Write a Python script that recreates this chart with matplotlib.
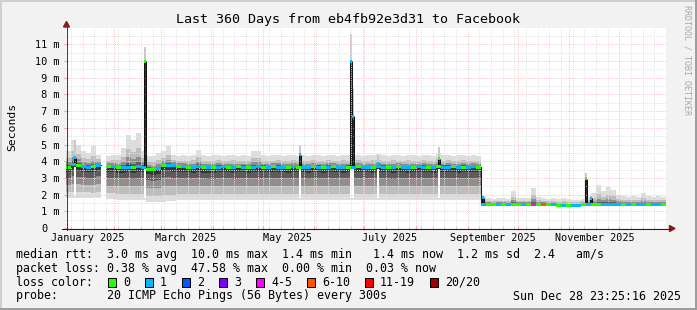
import datetime as dt
import numpy as np
import matplotlib
matplotlib.use('Agg')
import matplotlib.pyplot as plt
from matplotlib.patches import Rectangle, Polygon
from matplotlib.lines import Line2D
from matplotlib.transforms import ScaledTranslation

plt.rcParams['font.family'] = ['DejaVu Sans Mono']

W, H = 697, 310

start = dt.datetime(2025, 1, 2, 23, 25, 16)
end = dt.datetime(2025, 12, 28, 23, 25, 16)
step_days = 3  # one value per 3 days

nan = float('nan')

# median rtt (ms), one value per 3-day step
median_ms = [
    3.65, 3.80, 3.72, 3.66, 3.64, 3.66, 3.75, nan, 3.68, 3.66,
    3.62, 3.63, 3.64, 3.61, 3.66, 3.65, 3.52, 3.50, 3.54, 3.74,
    3.76, 3.72, 3.70, 3.66, 3.64, 3.62, 3.66, 3.63, 3.60, 3.62,
    3.65, 3.66, 3.64, 3.62, 3.66, 3.65, 3.63, 3.64, 3.66, 3.65,
    3.64, 3.66, 3.64, 3.65, 3.63, 3.66, 3.65, 3.64, 3.62, 3.66,
    3.65, 3.63, 3.64, 3.66, 3.64, 3.63, 3.65, 3.64, 3.66, 3.65,
    3.64, 3.63, 3.66, 3.65, 3.64, 3.62, 3.66, 3.65, 3.63, 3.64,
    3.66, 3.65, 3.64, 3.63, 3.66, 3.65, 3.64, 3.66, 3.63, 3.65,
    3.64, 3.66, 3.65, 1.42, 1.42, 1.43, 1.42, 1.42, 1.41, 1.42,
    1.42, 1.43, 1.42, 1.42, 1.41, 1.42, 1.42, 1.40, 1.36, 1.35,
    1.34, 1.35, 1.36, 1.40, 1.42, 1.40, 1.41, 1.42, 1.42, 1.43,
    1.42, 1.41, 1.42, 1.42, 1.41, 1.42, 1.42, 1.41, 1.42, 1.42,
]

# lowest ping of the smoke (ms)
smoke_lo = [
    1.80, 1.80, 1.82, 1.80, 1.80, 1.78, 1.80, nan, 1.72, 1.72,
    1.70, 1.70, 1.68, 1.68, 1.66, 1.65, 1.56, 1.55, 1.56, 1.58,
    1.60, 1.62, 1.66, 1.68, 1.68, 1.70, 1.68, 1.68, 1.70, 1.68,
    1.68, 1.70, 1.68, 1.68, 1.66, 1.68, 1.70, 1.68, 1.68, 1.70,
    1.68, 1.68, 1.70, 1.68, 1.68, 1.66, 1.68, 1.70, 1.68, 1.68,
    1.70, 1.68, 1.68, 1.66, 1.68, 1.68, 1.70, 1.68, 1.68, 1.70,
    1.68, 1.68, 1.66, 1.68, 1.70, 1.68, 1.68, 1.70, 1.68, 1.68,
    1.66, 1.68, 1.70, 1.68, 1.68, 1.70, 1.68, 1.68, 1.70, 1.68,
    1.68, 1.70, 1.68, 1.32, 1.32, 1.33, 1.32, 1.32, 1.31, 1.32,
    1.32, 1.33, 1.32, 1.32, 1.31, 1.32, 1.32, 1.30, 1.28, 1.27,
    1.26, 1.27, 1.28, 1.30, 1.32, 1.30, 1.31, 1.32, 1.32, 1.33,
    1.32, 1.31, 1.32, 1.32, 1.31, 1.32, 1.32, 1.31, 1.32, 1.32,
]

# highest ping of the smoke (ms)
smoke_hi = [
    4.6, 5.3, 5.0, 4.6, 4.5, 4.9, 4.4, nan, 4.3, 4.4,
    4.4, 4.8, 5.6, 5.3, 5.7, 4.6, 4.3, 4.3, 4.5, 4.6,
    4.9, 4.4, 4.3, 4.35, 4.3, 4.4, 4.7, 4.35, 4.3, 4.35,
    4.4, 4.3, 4.35, 4.4, 4.3, 4.35, 4.3, 4.6, 4.6, 4.35,
    4.3, 4.35, 4.4, 4.3, 4.35, 4.4, 4.3, 4.35, 4.3, 4.4,
    4.35, 4.3, 4.4, 4.35, 4.3, 4.4, 4.35, 4.3, 4.4, 4.3,
    4.35, 4.4, 4.45, 4.35, 4.3, 4.4, 4.35, 4.3, 4.4, 4.35,
    4.3, 4.4, 4.35, 4.3, 4.5, 4.35, 4.4, 4.3, 4.35, 4.4,
    4.3, 4.35, 4.3, 1.9, 1.8, 1.75, 1.78, 1.8, 1.75, 2.2,
    1.8, 1.78, 1.8, 2.4, 1.85, 1.8, 1.75, 1.8, 1.75, 1.8,
    1.75, 1.7, 1.7, 1.75, 1.85, 2.1, 2.55, 2.2, 2.45, 2.3,
    2.0, 1.9, 1.85, 1.9, 1.85, 2.1, 1.9, 1.85, 1.9, 1.85,
]

# packet loss class of the median, index into loss_colors
loss_code = (
    "0101101001" "0110110010" "1101011010" "1101010110"
    "1011010110" "1010110101" "1011010110" "1101011010"
    "1101001010" "0104050101" "0110100111" "1010110110"
)

# short outliers (day from start, median, top of smoke, loss class)
spike_day = [5.4, 47.4, 140.4, 171.0, 172.4, 186.9, 223.5, 250.2, 311.7, 315.0]
spike_med = [4.2, 10.0, 4.4, 10.0, 6.7, 3.84, 4.14, 1.8, 2.94, 1.78]
spike_top = [5.3, 10.85, 5.0, 11.6, 8.3, 4.4, 4.86, 1.9, 3.28, 1.9]
spike_loss = [1, 0, 1, 1, 1, 1, 0, 1, 0, 1]

loss_labels = ['0', '1', '2', '3', '4-5', '6-10', '11-19', '20/20']
loss_colors = ['#26ff00', '#00b8ff', '#0059ff', '#7e00ff',
               '#ff00ff', '#ff5500', '#ff0000', '#a10000']

# smoke shades: (part below median, part above median, colour)
smoke_levels = [(1.0, 1.0, '#dddddd'), (0.82, 0.55, '#bdbdbd'),
                (0.58, 0.30, '#8e8e8e'), (0.34, 0.14, '#5c5c5c'),
                (0.16, 0.06, '#343434')]


def days(t):
    return (t - start).total_seconds() / 86400.0


def px(x, y):
    return x / W, 1 - y / H


fig = plt.figure(figsize=(W / 100, H / 100), dpi=100, facecolor='#f2f2f2')
ax = fig.add_axes([66 / W, 1 - 228 / H, 600 / W, 200 / H])
ax.set_facecolor('white')
ax.set_xlim(0, days(end))
ax.set_ylim(0, 11.98)
for s in ax.spines.values():
    s.set_visible(False)

med = np.array(median_ms)
lo = np.array(smoke_lo)
hi = np.array(smoke_hi)
edges = np.arange(len(med) + 1) * step_days
xs = np.repeat(edges, 2)[1:-1]


def stairs(v):
    return np.repeat(v, 2)


# smoke
for flo, fhi, col in smoke_levels:
    ax.fill_between(xs, stairs(med - flo * (med - lo)), stairs(med + fhi * (hi - med)),
                    color=col, lw=0, zorder=1)

# outliers
for d, m, t, k in zip(spike_day, spike_med, spike_top, spike_loss):
    i = int(d // step_days)
    d0, d1 = d - 0.6, d + 0.6
    base = med[i]
    if base - lo[i] > 0.5:
        ax.fill_between([d0, d1], lo[i] + 0.12, base - 0.12, color='white', lw=0, zorder=1.2)
    ax.fill_between([d0, d1], m, t, color='#c8c8c8', lw=0, zorder=1.2)
    ax.fill_between([d0, d1], base, m, color='#2a2a2a', lw=0, zorder=1.2)
    ax.vlines([d0, d1], base, m, color='#151515', lw=0.75, zorder=3)
    ax.fill_between([d0, d1], m - 0.09, m + 0.09, color=loss_colors[k], lw=0, zorder=3.5)

# median line + loss colour
ax.plot(xs, stairs(med), color='#202020', lw=0.75, zorder=3)
codes = np.array([int(c) for c in loss_code])
for k, col in enumerate(loss_colors):
    mk = np.where(codes == k, med, np.nan)
    if np.all(np.isnan(mk)):
        continue
    ax.fill_between(xs, stairs(mk - 0.09), stairs(mk + 0.09), color=col, lw=0, zorder=3.5)

# grid
month_starts = [dt.datetime(2025, m, 1) for m in range(2, 13)]
major_x = [days(t) for t in month_starts]
mondays = []
t = dt.datetime(2025, 1, 6)
while t < end:
    if t.day != 1:
        mondays.append(days(t))
    t += dt.timedelta(days=7)
ax.set_xticks(major_x)
ax.set_xticks(mondays, minor=True)
ax.set_yticks(range(12))
ax.set_yticks(np.arange(0.5, 12, 1.0), minor=True)
ax.set_axisbelow(False)
ax.grid(which='major', color='#f9c4c4', linestyle=(0, (1, 1.2)), linewidth=0.72)
ax.grid(which='minor', color='#e2e2e2', linestyle=(0, (1, 1.2)), linewidth=0.72)
ax.tick_params(axis='x', which='both', labelbottom=False, direction='inout')
ax.tick_params(axis='x', which='major', length=3, color='#f0a0a0')
ax.tick_params(axis='x', which='minor', length=3, color='#c8c8c8')
ax.tick_params(axis='y', which='major', length=3, direction='inout', color='#f0a0a0',
               pad=3.2, labelsize=7.4)
ax.tick_params(axis='y', which='minor', length=0)
ax.set_yticklabels(['0'] + [f'{v:2d} m' for v in range(1, 12)])
ylab0 = ax.get_yticklabels()[0]
ylab0.set_transform(ylab0.get_transform() + ScaledTranslation(-8.9 / 72, 0, fig.dpi_scale_trans))

# month labels
for m in (1, 3, 5, 7, 9, 11):
    t = dt.datetime(2025, m, 16)
    ax.annotate(t.strftime('%B %Y'), (days(t), 0), xycoords=('data', 'axes fraction'),
                xytext=(0, -7.0), textcoords='offset points',
                ha='center', va='center', fontsize=7.3)

# axes with arrows
fig.add_artist(Line2D([px(66.5, 0)[0]] * 2, [px(0, 230)[1], px(0, 26)[1]],
                      color='#404040', lw=0.75, transform=fig.transFigure))
fig.add_artist(Line2D([px(62, 0)[0], px(670, 0)[0]], [px(0, 228.5)[1]] * 2,
                      color='#202020', lw=0.75, transform=fig.transFigure))
fig.add_artist(Polygon([px(66.5, 21.5), px(63.5, 27), px(69.5, 27)], closed=True,
                       color='#8b1a1a', transform=fig.transFigure))
fig.add_artist(Polygon([px(675, 228.5), px(669.5, 225.5), px(669.5, 231.5)], closed=True,
                       color='#8b1a1a', transform=fig.transFigure))

# title and labels
fig.text(*px(347.5, 19), 'Last 360 Days from eb4fb92e3d31 to Facebook',
         ha='center', va='center', fontsize=9.6)
fig.text(*px(12, 127), 'Seconds', rotation=90, ha='center', va='center', fontsize=8.2)
fig.text(*px(687, 5), 'RRDTOOL / TOBI OETIKER', rotation=270, ha='center', va='top',
         fontsize=6, color='#a8a8a8')

# legend
fs = 8.4
fig.text(*px(15.5, 254.3),
         'median rtt:  3.0 ms avg  10.0 ms max  1.4 ms min   1.4 ms now  1.2 ms sd  2.4   am/s',
         ha='left', va='center', fontsize=fs)
fig.text(*px(15.5, 268.3),
         'packet loss: 0.38 % avg  47.58 % max  0.00 % min  0.03 % now',
         ha='left', va='center', fontsize=fs)
fig.text(*px(15.5, 282.3), 'loss color:', ha='left', va='center', fontsize=fs)
cursor = 108
for lab, col in zip(loss_labels, loss_colors):
    fig.add_artist(Rectangle(px(cursor, 286.5), 8 / W, 9 / H, facecolor=col,
                             edgecolor='black', lw=0.72, transform=fig.transFigure))
    fig.text(*px(cursor + 15, 282.3), lab, ha='left', va='center', fontsize=fs)
    cursor += 30 + 7 * len(lab)
fig.text(*px(15.5, 296), 'probe:       20 ICMP Echo Pings (56 Bytes) every 300s',
         ha='left', va='center', fontsize=fs)
fig.text(*px(513, 296), 'Sun Dec 28 23:25:16 2025', ha='left', va='center', fontsize=fs)

# 3d frame
for x, y, w, h, c in [(0, 0, W, 2, '#cfcfcf'), (0, 0, 2, H, '#cfcfcf'),
                      (0, H - 2, W, 2, '#9e9e9e'), (W - 2, 0, 2, H, '#9e9e9e')]:
    fig.add_artist(Rectangle(px(x, y + h), w / W, h / H, facecolor=c, lw=0,
                             transform=fig.transFigure))

fig.savefig('out.png', dpi=100, facecolor=fig.get_facecolor())
